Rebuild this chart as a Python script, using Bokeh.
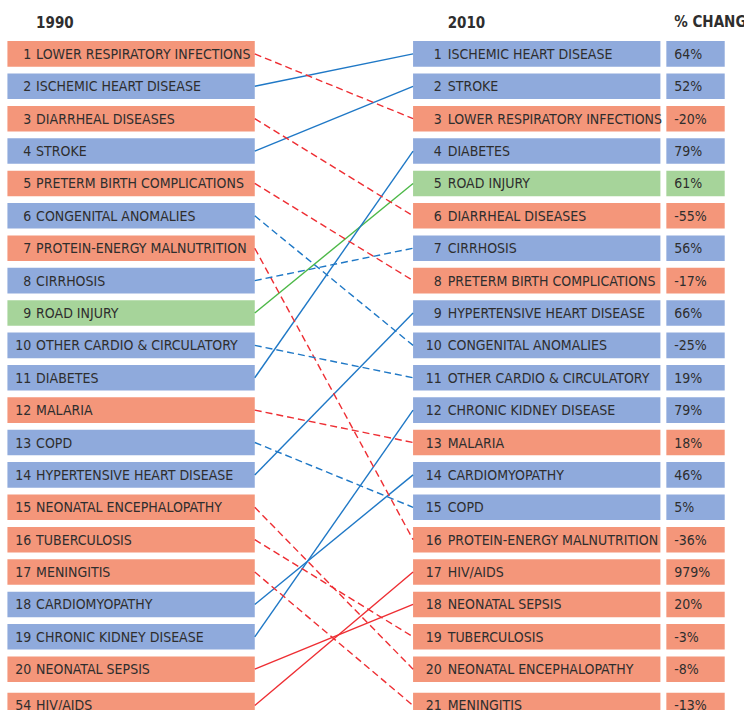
from bokeh.plotting import figure
from bokeh.models import Range1d, ColumnDataSource
from bokeh.core.properties import value
from bokeh.embed import file_html
from bokeh.resources import INLINE

# ---- data ----
rank_1990 = ["1", "2", "3", "4", "5", "6", "7", "8", "9", "10", "11", "12", "13", "14",
             "15", "16", "17", "18", "19", "20", "54"]
causes_1990 = ["LOWER RESPIRATORY INFECTIONS", "ISCHEMIC HEART DISEASE", "DIARRHEAL DISEASES",
               "STROKE", "PRETERM BIRTH COMPLICATIONS", "CONGENITAL ANOMALIES",
               "PROTEIN-ENERGY MALNUTRITION", "CIRRHOSIS", "ROAD INJURY",
               "OTHER CARDIO & CIRCULATORY", "DIABETES", "MALARIA", "COPD",
               "HYPERTENSIVE HEART DISEASE", "NEONATAL ENCEPHALOPATHY", "TUBERCULOSIS",
               "MENINGITIS", "CARDIOMYOPATHY", "CHRONIC KIDNEY DISEASE", "NEONATAL SEPSIS",
               "HIV/AIDS"]
group_1990 = ["com", "ncd", "com", "ncd", "com", "ncd", "com", "ncd", "inj", "ncd", "ncd",
              "com", "ncd", "ncd", "com", "com", "com", "ncd", "ncd", "com", "com"]
slot_2010_of_1990 = [3, 1, 6, 2, 8, 10, 16, 7, 5, 11, 4, 13, 15, 9, 20, 19, 21, 14, 12, 18, 17]
line_style = ["dashed", "solid", "dashed", "solid", "dashed", "dashed", "dashed", "dashed",
              "solid", "dashed", "solid", "dashed", "dashed", "solid", "dashed", "dashed",
              "dashed", "solid", "solid", "solid", "solid"]

rank_2010 = [str(i) for i in range(1, 22)]
causes_2010 = ["ISCHEMIC HEART DISEASE", "STROKE", "LOWER RESPIRATORY INFECTIONS", "DIABETES",
               "ROAD INJURY", "DIARRHEAL DISEASES", "CIRRHOSIS", "PRETERM BIRTH COMPLICATIONS",
               "HYPERTENSIVE HEART DISEASE", "CONGENITAL ANOMALIES",
               "OTHER CARDIO & CIRCULATORY", "CHRONIC KIDNEY DISEASE", "MALARIA",
               "CARDIOMYOPATHY", "COPD", "PROTEIN-ENERGY MALNUTRITION", "HIV/AIDS",
               "NEONATAL SEPSIS", "TUBERCULOSIS", "NEONATAL ENCEPHALOPATHY", "MENINGITIS"]
group_2010 = ["ncd", "ncd", "com", "ncd", "inj", "com", "ncd", "com", "ncd", "ncd", "ncd",
              "ncd", "com", "ncd", "ncd", "com", "com", "com", "com", "com", "com"]
pct_change = ["64%", "52%", "-20%", "79%", "61%", "-55%", "56%", "-17%", "66%", "-25%",
              "19%", "79%", "18%", "46%", "5%", "-36%", "979%", "20%", "-3%", "-8%", "-13%"]

headers = ["1990", "2010", "% CHANGE"]

# ---- style ----
BOX = {"com": "#F4967A", "ncd": "#8FAADC", "inj": "#A6D49A"}
LINE = {"com": "#EE2E33", "ncd": "#1F78C6", "inj": "#4CB847"}
TXT = "#2E2E2E"
FONT = value("'DejaVu Sans Condensed', 'Liberation Sans Narrow', 'Roboto Condensed', 'Noto Sans', sans-serif")
FS = "14px"

def slot_pos(i):
    # slot index (1-based) -> vertical position; extra gap before the 21st slot
    return i + (0.12 if i > 20 else 0.0)

pos = [slot_pos(i) for i in range(1, 22)]

p = figure(width=744, height=710, output_backend="svg", toolbar_location=None,
           x_range=Range1d(0, 752), y_range=Range1d(21.275, -0.649),
           x_axis_location=None, y_axis_location=None, min_border=0)
p.grid.visible = False
p.outline_line_color = None
p.background_fill_color = "white"
p.border_fill_color = "white"

BH = 0.79
LX0, LX1 = 7, 257
RX0, RX1 = 417, 667
PX0, PX1 = 673, 732

left = ColumnDataSource(dict(y=pos, num=rank_1990, name=causes_1990,
                             fill=[BOX[g] for g in group_1990]))
right = ColumnDataSource(dict(y=pos, num=rank_2010, name=causes_2010, pct=pct_change,
                              fill=[BOX[g] for g in group_2010]))

p.rect(x=(LX0 + LX1) / 2, y="y", width=LX1 - LX0, height=BH, fill_color="fill",
       line_color=None, source=left)
p.rect(x=(RX0 + RX1) / 2, y="y", width=RX1 - RX0, height=BH, fill_color="fill",
       line_color=None, source=right)
p.rect(x=(PX0 + PX1) / 2, y="y", width=PX1 - PX0, height=BH, fill_color="fill",
       line_color=None, source=right)

common = dict(text_font=FONT, text_font_size=FS, text_color=TXT, text_baseline="middle")
p.text(x=31, y="y", text="num", text_align="right", source=left, **common)
p.text(x=36, y="y", text="name", text_align="left", source=left, **common)
p.text(x=446, y="y", text="num", text_align="right", source=right, **common)
p.text(x=452, y="y", text="name", text_align="left", source=right, **common)
p.text(x=681, y="y", text="pct", text_align="left", source=right, **common)

p.text(x=[36, 452, 681], y=[0, 0, 0], text=headers, text_font=FONT, text_font_size="15px",
       text_font_style="bold", text_color=TXT, text_baseline="middle")

# connecting lines
for style, dash in (("solid", "solid"), ("dashed", "7 4")):
    idx = [i for i in range(21) if line_style[i] == style]
    p.segment(x0=[LX1] * len(idx), y0=[pos[i] for i in idx],
              x1=[RX0] * len(idx), y1=[slot_pos(slot_2010_of_1990[i]) for i in idx],
              line_color=[LINE[group_1990[i]] for i in idx], line_width=1.4,
              line_dash=dash)

open("out.html", "w").write(file_html(p, INLINE))
